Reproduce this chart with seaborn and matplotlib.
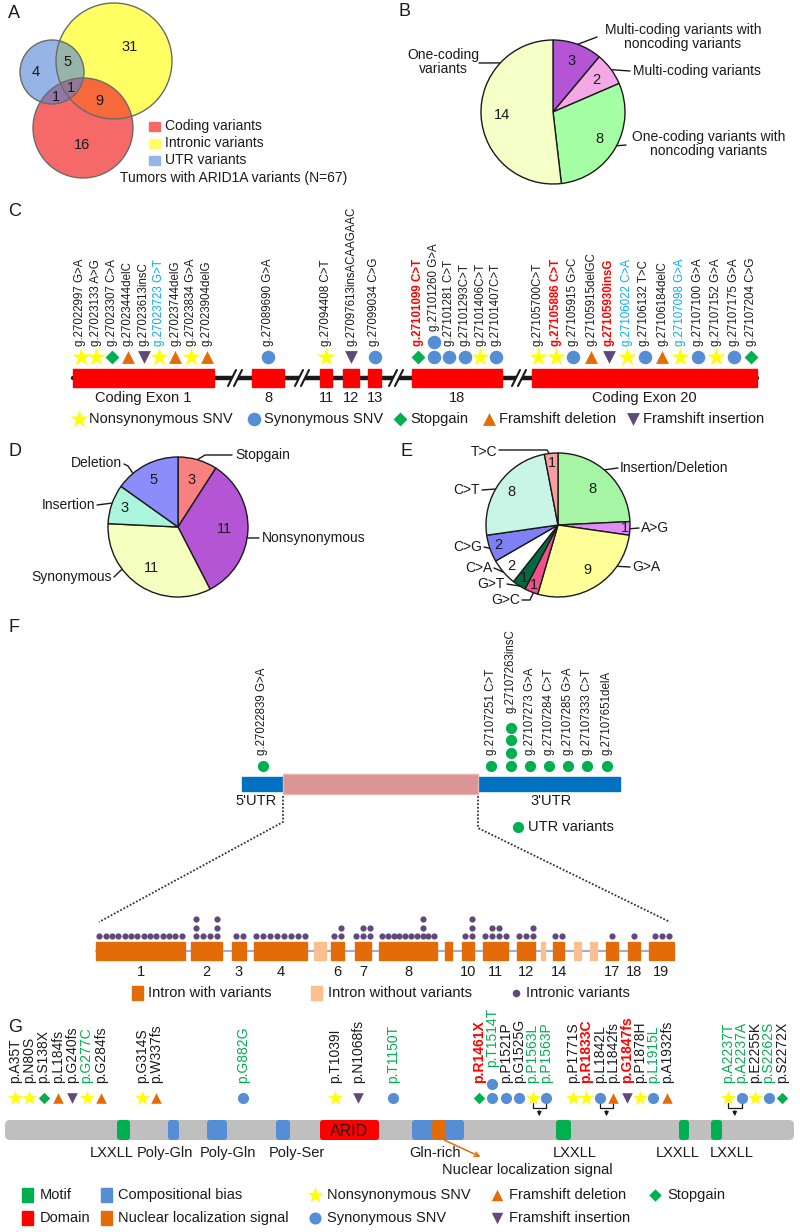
import numpy as np
import pandas as pd
import matplotlib.pyplot as plt
import seaborn as sns
from matplotlib.patches import Circle, Rectangle, FancyBboxPatch

sns.set_theme(style="white")
plt.rcParams["font.family"] = ["Liberation Sans", "DejaVu Sans"]

W, H = 800, 1232

# ---------------- data ----------------
# A: Venn
VENN_SETS = ["Coding variants", "Intronic variants", "UTR variants"]
VENN_REGIONS = ["utr", "utr+intron", "intron", "utr+coding", "all", "coding+intron", "coding"]
VENN_VALUES = [4, 5, 31, 1, 1, 9, 16]
VENN_TOTAL = "Tumors with ARID1A variants (N=67)"

# B: coding variant combinations
B_LABELS = ["Multi-coding variants with\nnoncoding variants", "Multi-coding variants",
            "One-coding variants with\nnoncoding variants", "One-coding\nvariants"]
B_VALUES = [3, 2, 8, 14]
B_COLORS = ["#B455D5", "#F5A8E6", "#A5FFA5", "#F5FFC8"]

# C: coding exon variants (type: N nonsyn, S syn, X stopgain, D fs deletion, I fs insertion)
EXON_NAMES = ["Coding Exon 1", "8", "11", "12", "13", "18", "Coding Exon 20"]
EXON_VARIANTS = [
    ["g.27022997 G>A", "g.27023133 A>G", "g.27023307 C>A", "g.27023444delC", "g.27023613insC",
     "g.27023723 G>T", "g.27023744delG", "g.27023834 G>A", "g.27023904delG"],
    ["g.27089690 G>A"],
    ["g.27094408 C>T"],
    ["g.27097613insACAAGAAC"],
    ["g.27099034 C>G"],
    ["g.27101099 C>T", "g.27101260 G>A", "g.27101281 C>T", "g.27101293C>T", "g.27101406C>T",
     "g.27101407C>T"],
    ["g.27105700C>T", "g.27105886 C>T", "g.27105915 G>C", "g.27105915delGC", "g.27105930insG",
     "g.27106022 C>A", "g.27106132 T>C", "g.27106184delC", "g.27107098 G>A", "g.27107100 G>A",
     "g.27107152 G>A", "g.27107175 G>A", "g.27107204 C>G"],
]
EXON_TYPES = [
    ["N", "N", "X", "D", "I", "N", "D", "N", "D"],
    ["S"], ["N"], ["I"], ["S"],
    ["X", "S", "S", "S", "N", "S"],
    ["N", "N", "S", "D", "I", "N", "S", "D", "N", "S", "N", "S", "X"],
]
C_COUNTS = {"g.27101260 G>A": 2}
C_RED = ["g.27101099 C>T", "g.27105886 C>T", "g.27105930insG"]
C_BLUE = ["g.27023723 G>T", "g.27106022 C>A", "g.27107098 G>A"]

TYPE_NAMES = {"N": "Nonsynonymous SNV", "S": "Synonymous SNV", "X": "Stopgain",
              "D": "Framshift deletion", "I": "Framshift insertion"}

# D: coding variant function
D_LABELS = ["Stopgain", "Nonsynonymous", "Synonymous", "Insertion", "Deletion"]
D_VALUES = [3, 11, 11, 3, 5]
D_COLORS = ["#F88080", "#B455D5", "#F5FFC0", "#AAF5DC", "#8C8CFA"]

# E: substitution spectrum
E_LABELS = ["Insertion/Deletion", "A>G", "G>A", "G>C", "G>T", "C>A", "C>G", "C>T", "T>C"]
E_VALUES = [8, 1, 9, 1, 1, 2, 2, 8, 1]
E_COLORS = ["#A5F5A5", "#E08CF5", "#FFFF99", "#F0508C", "#006B3F", "#FFFFFF", "#8080F5",
            "#C8F5E6", "#F5A0A0"]

# F: UTR variants
UTR5_VARIANTS = ["g.27022839 G>A"]
UTR3_VARIANTS = ["g.27107251 C>T", "g.27107263insC", "g.27107273 G>A", "g.27107284 C>T",
                 "g.27107285 G>A", "g.27107333 C>T", "g.27107651delA"]
UTR3_COUNTS = [1, 4, 1, 1, 1, 1, 1]

# F: intronic variants (dots per column within each intron)
INTRON_LABELS = ["1", "2", "3", "4", "", "6", "7", "8", "", "10", "11", "12", "", "14", "", "",
                 "17", "18", "19"]
INTRON_DOTS = [[1] * 14, [3, 1, 1, 3], [1, 1], [1] * 8, [], [1, 2], [1, 2, 2],
               [1, 1, 1, 1, 1, 1, 1, 3, 1, 1], [], [1, 3], [1, 2, 2, 1], [1, 1, 2], [], [1, 1],
               [], [], [1], [1], [1, 1, 1]]
INTRON_HAS_VAR = [True, True, True, True, False, True, True, True, True, True, True, True, False,
                  True, False, False, True, True, True]

# G: protein-level variants
G_VARIANTS = ["p.A35T", "p.N80S", "p.S138X", "p.L184fs", "p.G240fs", "p.G277C", "p.G284fs",
              "p.G314S", "p.W337fs", "p.G882G", "p.T1039I", "p.N1068fs", "p.T1150T",
              "p.R1461X", "p.T1514T", "p.P1521P", "p.G1525G", "p.P1563L", "p.P1563P",
              "p.P1771S", "p.R1833C", "p.L1842L", "p.L1842fs", "p.G1847fs", "p.P1878H",
              "p.L1915L", "p.A1932fs", "p.A2237T", "p.A2237A", "p.E2255K", "p.S2262S", "p.S2272X"]
G_TYPES = ["N", "N", "X", "D", "I", "N", "D", "N", "D", "S", "N", "I", "S",
           "X", "S", "S", "S", "N", "S", "N", "N", "S", "D", "I", "N", "S", "D",
           "N", "S", "N", "S", "X"]
G_CLUSTER_SIZES = [7, 2, 1, 2, 1, 6, 8, 5]
G_COUNTS = {"p.T1514T": 2}
G_RED = ["p.R1461X", "p.R1833C", "p.G1847fs"]
G_GREEN = ["p.G277C", "p.G882G", "p.T1150T", "p.T1514T", "p.P1563L", "p.P1563P", "p.L1915L",
           "p.A2237T", "p.A2237A", "p.S2262S"]
G_PAIRS = [("p.P1563L", "p.P1563P"), ("p.L1842L", "p.L1842fs"), ("p.A2237T", "p.A2237A")]
DOMAIN_NAMES = ["LXXLL", "Poly-Gln", "Poly-Gln", "Poly-Ser", "ARID", "Gln-rich", "NLS",
                "LXXLL", "LXXLL", "LXXLL"]
DOMAIN_KINDS = ["Motif", "Compositional bias", "Compositional bias", "Compositional bias",
                "Domain", "Compositional bias", "Nuclear localization signal", "Motif", "Motif",
                "Motif"]

# ---------------- styles / layout ----------------
MK = {"N": "*", "S": "o", "X": "D", "D": "^", "I": "v"}
MC = {"N": "#FFFF00", "S": "#558ED5", "X": "#00B050", "D": "#E36C09", "I": "#5F497A"}
MS = {"N": 190, "S": 95, "X": 50, "D": 85, "I": 85}
KIND_COLORS = {"Motif": "#00B050", "Compositional bias": "#558ED5", "Domain": "#FF0000",
               "Nuclear localization signal": "#E36C09"}
RED, BLUE, GREEN = "#FF0000", "#00B0F0", "#00B050"

fig = plt.figure(figsize=(W / 100, H / 100), dpi=100)
ax = fig.add_axes([0, 0, 1, 1])
ax.set_xlim(0, W)
ax.set_ylim(H, 0)
ax.axis("off")


def put_marks(xs, ys, kinds, scale=1.0):
    df = pd.DataFrame({"x": xs, "y": ys, "k": kinds})
    for k, sub in df.groupby("k"):
        sns.scatterplot(data=sub, x="x", y="y", marker=MK[k], color=MC[k], s=MS[k] * scale,
                        linewidth=0, legend=False, ax=ax, zorder=5)


def vlabel(x, y, s, fs=8.3, color="#1a1a1a", bold=False):
    ax.text(x, y, s, rotation=90, ha="center", va="bottom", fontsize=fs, color=color,
            fontweight="bold" if bold else "normal")


def pie_panel(cx, cy, r, values, colors, dists, fs=10.5):
    m = 1.04
    pax = fig.add_axes([(cx - r * m) / W, 1 - (cy + r * m) / H, 2 * r * m / W, 2 * r * m / H])
    wedges, _ = pax.pie(values, colors=colors, startangle=90, counterclock=False, radius=1,
                        wedgeprops=dict(edgecolor="#1a1a1a", linewidth=1.0))
    pax.set_xlim(-m, m)
    pax.set_ylim(-m, m)
    for w, v, d in zip(wedges, values, dists):
        a = np.deg2rad((w.theta1 + w.theta2) / 2)
        pax.text(d * np.cos(a), d * np.sin(a), str(v), ha="center", va="center", fontsize=fs,
                 color="#1a1a1a")
    return pax


def pie_labels(cx, cy, r, labels, specs, fs=10):
    for lab, (tx, ty, ha, ang, pts) in zip(labels, specs):
        a = np.deg2rad(ang)
        xs = [cx + r * np.cos(a)] + [p[0] for p in pts]
        ys = [cy - r * np.sin(a)] + [p[1] for p in pts]
        ax.plot(xs, ys, color="#1a1a1a", lw=1.0)
        ax.text(tx, ty, lab, ha=ha, va="center", fontsize=fs, color="#1a1a1a",
                multialignment="center", linespacing=1.05)


def panel_tag(x, y, s):
    ax.text(x, y, s, fontsize=13, ha="left", va="center", color="#1a1a1a")


# ---------------- A ----------------
panel_tag(8, 13, "A")
venn_circles = [((114, 61), 58, "#FFFF3D", 0.8), ((83, 128), 50, "#F12A2A", 0.7),
                ((52, 72), 32, "#5082D5", 0.6)]
for (c, r, col, al) in venn_circles:
    ax.add_patch(Circle(c, r, facecolor=col, alpha=al, edgecolor="none", zorder=1))
for (c, r, col, al) in venn_circles:
    ax.add_patch(Circle(c, r, facecolor="none", edgecolor="#6b6b6b", lw=1.0, zorder=2))
venn_pos = [(36, 72), (68, 62), (130, 47), (56, 97), (71, 88), (99, 101), (82, 145)]
for (x, y), v in zip(venn_pos, VENN_VALUES):
    ax.text(x, y, str(v), ha="center", va="center", fontsize=10.5, color="#1a1a1a", zorder=3)
venn_legend_cols = ["#F56969", "#FFFF64", "#96B4E6"]
for i, (name, col) in enumerate(zip(VENN_SETS, venn_legend_cols)):
    y = 126 + 17 * i
    ax.add_patch(Rectangle((149, y - 4.5), 11, 9, color=col))
    ax.text(165, y, name, ha="left", va="center", fontsize=10, color="#1a1a1a")
ax.text(120, 178, VENN_TOTAL, ha="left", va="center", fontsize=10, color="#1a1a1a")

# ---------------- B ----------------
panel_tag(399, 12, "B")
pie_panel(553, 112, 72, B_VALUES, B_COLORS, [0.76, 0.75, 0.74, 0.71])
pie_labels(553, 112, 72, B_LABELS, [
    (683, 37, "center", 70, [(597, 37)]),
    (633, 71, "left", 36, [(630, 71)]),
    (709, 144, "center", -28, [(626, 145)]),
    (443, 62, "center", 137, [(479, 63)]),
])

# ---------------- C ----------------
panel_tag(8, 212, "C")
exon_spans = [(73, 214), (252, 284), (320, 332), (343, 359), (368, 381), (412, 502), (532, 757)]
exon_steps = [15.75, 0, 0, 0, 0, 15.6, 17.8]
bar_y, mark_y, lab_y = 378, 357, 346
ax.plot([exon_spans[0][0], exon_spans[-1][1]], [bar_y, bar_y], color="k", lw=3.2, zorder=1)
for (x0, x1), name in zip(exon_spans, EXON_NAMES):
    ax.add_patch(Rectangle((x0, bar_y - 9), x1 - x0, 18, color="#FF0000", zorder=2))
    ax.text((x0 + x1) / 2, 398, name, ha="center", va="center", fontsize=10.5, color="#1a1a1a")
for bx in [235, 302, 396, 519]:
    ax.plot([bx - 4, bx + 4], [bar_y + 8, bar_y - 8], color="white", lw=3.5, zorder=3)
    for dx in (-3, 3):
        ax.plot([bx + dx - 4, bx + dx + 4], [bar_y + 8, bar_y - 8], color="k", lw=1.5, zorder=4)
cx_all, cy_all, ck_all = [], [], []
for (x0, x1), step, labs, kinds in zip(exon_spans, exon_steps, EXON_VARIANTS, EXON_TYPES):
    n = len(labs)
    xs = (x0 + x1) / 2 + (np.arange(n) - (n - 1) / 2) * step
    for x, lab, k in zip(xs, labs, kinds):
        cnt = C_COUNTS.get(lab, 1)
        for j in range(cnt):
            cx_all.append(x)
            cy_all.append(mark_y - 15 * j)
            ck_all.append(k)
        col = RED if lab in C_RED else (BLUE if lab in C_BLUE else "#1a1a1a")
        vlabel(x, lab_y - 15 * (cnt - 1), lab, color=col, bold=lab in C_RED)
put_marks(cx_all, cy_all, ck_all)
c_leg_x = {"N": 79, "S": 254, "X": 400, "D": 489, "I": 633}
put_marks(list(c_leg_x.values()), [419] * 5, list(c_leg_x.keys()))
for k, x in c_leg_x.items():
    ax.text(x + 10, 419, TYPE_NAMES[k], ha="left", va="center", fontsize=10.5, color="#1a1a1a")

# ---------------- D ----------------
panel_tag(8, 452, "D")
pie_panel(178, 527, 70, D_VALUES, D_COLORS, [0.7, 0.67, 0.7, 0.81, 0.76])
pie_labels(178, 527, 70, D_LABELS, [
    (235, 455, "left", 74, [(205, 455), (232, 455)]),
    (262, 538, "left", -9, [(259, 538)]),
    (112, 577, "right", -143, [(114, 577)]),
    (95, 505, "right", 160, [(97, 505)]),
    (122, 463, "right", 130, [(128, 466), (124, 464)]),
])

# ---------------- E ----------------
panel_tag(400, 452, "E")
pie_panel(558, 525, 72, E_VALUES, E_COLORS, [0.7, 0.93, 0.75, 0.9, 0.87, 0.86, 0.87, 0.79, 0.86])
pie_labels(558, 525, 72, E_LABELS, [
    (620, 468, "left", 50, [(618, 468)]),
    (641, 528, "left", -3, [(639, 528)]),
    (632, 567, "left", -35, [(630, 567)]),
    (520, 600, "right", -110, [(530, 600), (522, 600)]),
    (505, 584, "right", -122, [(507, 584)]),
    (492, 568, "right", -139, [(494, 568)]),
    (482, 547, "right", -161, [(484, 547)]),
    (480, 490, "right", 150, [(482, 490)]),
    (497, 452, "right", 97, [(547, 450), (499, 450)]),
])

# ---------------- F ----------------
panel_tag(8, 627, "F")
utr5, cds, utr3 = (242, 283), (283, 478), (478, 620)
ax.add_patch(Rectangle((utr5[0], 777), utr3[1] - utr5[0], 14, color="#0070C0", zorder=1))
ax.add_patch(Rectangle((cds[0], 774), cds[1] - cds[0], 20, facecolor="#D99694",
                       edgecolor="#E6B4B2", lw=1, zorder=2))
ax.text(sum(utr5) / 2 - 6, 801, "5'UTR", ha="center", va="center", fontsize=10.5, color="#1a1a1a")
ax.text(sum(utr3) / 2 + 2, 801, "3'UTR", ha="center", va="center", fontsize=10.5, color="#1a1a1a")
fx, fy = [], []
for lab in UTR5_VARIANTS:
    fx.append(sum(utr5) / 2)
    fy.append(766)
    vlabel(sum(utr5) / 2, 755, lab)
xs3 = sum(utr3) / 2 + (np.arange(len(UTR3_VARIANTS)) - 3) * 19.2
for x, lab, cnt in zip(xs3, UTR3_VARIANTS, UTR3_COUNTS):
    for j in range(cnt):
        fx.append(x)
        fy.append(766 - 12.8 * j)
    vlabel(x, 755 - 12.8 * (cnt - 1) - (4 if cnt > 1 else 0), lab)
sns.scatterplot(x=fx, y=fy, color="#00B050", s=65, linewidth=0, legend=False, ax=ax, zorder=5)
sns.scatterplot(x=[518], y=[827], color="#00B050", s=65, linewidth=0, legend=False, ax=ax)
ax.text(528, 827, "UTR variants", ha="left", va="center", fontsize=10.5, color="#1a1a1a")

# zoom lines
ax.plot([cds[0], cds[0], 99], [796, 822, 922], color="#333333", lw=1.3, ls=(0, (1, 1)))
ax.plot([cds[1], cds[1], 670], [796, 828, 922], color="#333333", lw=1.3, ls=(0, (1, 1)))

# introns
intron_spans = [(96, 185), (191, 222), (232, 246), (254, 307), (314, 326), (331, 344), (355, 371),
                (379, 437), (445, 452), (462, 474), (483, 508), (517, 535), (541, 545),
                (553, 564), (574, 581), (590, 597), (606, 618), (628, 640), (649, 674)]
ax.plot([96, 674], [951, 951], color="#8EB4E3", lw=1.5, zorder=1)
dx_, dy_ = [], []
for (x0, x1), has, lab, cols in zip(intron_spans, INTRON_HAS_VAR, INTRON_LABELS, INTRON_DOTS):
    ax.add_patch(Rectangle((x0, 942), x1 - x0, 18, color="#E36C09" if has else "#FAC090",
                           zorder=2))
    if lab:
        ax.text((x0 + x1) / 2, 972, lab, ha="center", va="center", fontsize=10.5,
                color="#1a1a1a")
    n = len(cols)
    step = 6.5 if (x1 - x0) > 60 else 7
    if n > 8:
        step = min(step, (x1 - x0) / n)
    for i, h in enumerate(cols):
        x = (x0 + x1) / 2 + (i - (n - 1) / 2) * step
        for j in range(h):
            dx_.append(x)
            dy_.append(936 - 8.5 * j)
sns.scatterplot(x=dx_, y=dy_, color="#5F497A", s=20, linewidth=0, legend=False, ax=ax, zorder=5)
ax.add_patch(Rectangle((132, 986), 11, 14, color="#E36C09"))
ax.text(148, 993, "Intron with variants", ha="left", va="center", fontsize=10.5, color="#1a1a1a")
ax.add_patch(Rectangle((311, 986), 11, 14, color="#FAC090"))
ax.text(328, 993, "Intron without variants", ha="left", va="center", fontsize=10.5,
        color="#1a1a1a")
sns.scatterplot(x=[516], y=[993], color="#5F497A", s=30, linewidth=0, legend=False, ax=ax)
ax.text(526, 993, "Intronic variants", ha="left", va="center", fontsize=10.5, color="#1a1a1a")

# ---------------- G ----------------
panel_tag(8, 1027, "G")
prot_y0, prot_h = 1120, 20
ax.add_patch(FancyBboxPatch((5, prot_y0), 789, prot_h, boxstyle="round,pad=0,rounding_size=5",
                            fc="#BFBFBF", ec="none", zorder=1))
domain_spans = [(117, 130), (168, 179), (207, 227), (276, 290), (320, 379), (412, 464),
                (432, 446), (556, 571), (679, 689), (711, 722)]
for (x0, x1), name, kind in zip(domain_spans, DOMAIN_NAMES, DOMAIN_KINDS):
    ax.add_patch(FancyBboxPatch((x0, prot_y0), x1 - x0, prot_h,
                                boxstyle="round,pad=0,rounding_size=3",
                                fc=KIND_COLORS[kind], ec="none", zorder=2 if kind != "Nuclear localization signal" else 3))
ax.text(349.5, 1131, "ARID", ha="center", va="center", fontsize=11.5, color="#1a1a1a", zorder=4)
dom_label_pos = [(112, "LXXLL"), (165, "Poly-Gln"), (228, "Poly-Gln"), (297, "Poly-Ser"),
                 (435, "Gln-rich"), (575, "LXXLL"), (678, "LXXLL"), (732, "LXXLL")]
for x, s in dom_label_pos:
    ax.text(x, 1153, s, ha="center", va="center", fontsize=10.5, color="#1a1a1a")
ax.text(527, 1170, "Nuclear localization signal", ha="center", va="center", fontsize=10.5,
        color="#1a1a1a")
ax.annotate("", xy=(483, 1158), xytext=(442, 1139),
            arrowprops=dict(arrowstyle="->", color="#E36C09", lw=1.1, mutation_scale=8))

g_anchors = [(15, 14.3), (142, 14), (243, 0), (335, 23), (393, 0), (479, 13.4), (573, 13.4),
             (728, 13.5)]
gx_pos = {}
gi = 0
for (x0, step), n in zip(g_anchors, G_CLUSTER_SIZES):
    for j in range(n):
        gx_pos[G_VARIANTS[gi]] = x0 + j * step
        gi += 1
gx, gy, gk = [], [], []
for lab, k in zip(G_VARIANTS, G_TYPES):
    x = gx_pos[lab]
    cnt = G_COUNTS.get(lab, 1)
    for j in range(cnt):
        gx.append(x)
        gy.append(1098 - 14 * j)
        gk.append(k)
    col = RED if lab in G_RED else (GREEN if lab in G_GREEN else "#1a1a1a")
    vlabel(x, 1083 - 14 * (cnt - 1) - (2 if cnt > 1 else 0), lab, fs=10, color=col,
           bold=lab in G_RED)
put_marks(gx, gy, gk, scale=0.68)
for a, b in G_PAIRS:
    xa, xb = gx_pos[a], gx_pos[b]
    xm = (xa + xb) / 2
    ax.plot([xa, xa, xb, xb], [1103, 1108, 1108, 1103], color="k", lw=0.9)
    ax.annotate("", xy=(xm, 1119), xytext=(xm, 1108),
                arrowprops=dict(arrowstyle="-|>", color="k", lw=0.9, mutation_scale=6))

# G legend
for i, kind in enumerate(["Motif", "Domain"]):
    y = 1195 + 23 * i
    ax.add_patch(Rectangle((22, y - 7), 11, 14, color=KIND_COLORS[kind]))
    ax.text(40, y, kind, ha="left", va="center", fontsize=10.5, color="#1a1a1a")
for i, kind in enumerate(["Compositional bias", "Nuclear localization signal"]):
    y = 1195 + 23 * i
    ax.add_patch(Rectangle((101, y - 7), 11, 14, color=KIND_COLORS[kind]))
    ax.text(118, y, kind, ha="left", va="center", fontsize=10.5, color="#1a1a1a")
g_leg = [("N", 315, 1195), ("S", 315, 1218), ("D", 497, 1195), ("I", 497, 1218), ("X", 655, 1195)]
put_marks([p[1] for p in g_leg], [p[2] for p in g_leg], [p[0] for p in g_leg], scale=0.8)
for k, x, y in g_leg:
    ax.text(x + 12, y, TYPE_NAMES[k], ha="left", va="center", fontsize=10.5, color="#1a1a1a")

ax.set_xlim(0, W)
ax.set_ylim(H, 0)
ax.axis("off")
fig.savefig("out.png", dpi=100)
